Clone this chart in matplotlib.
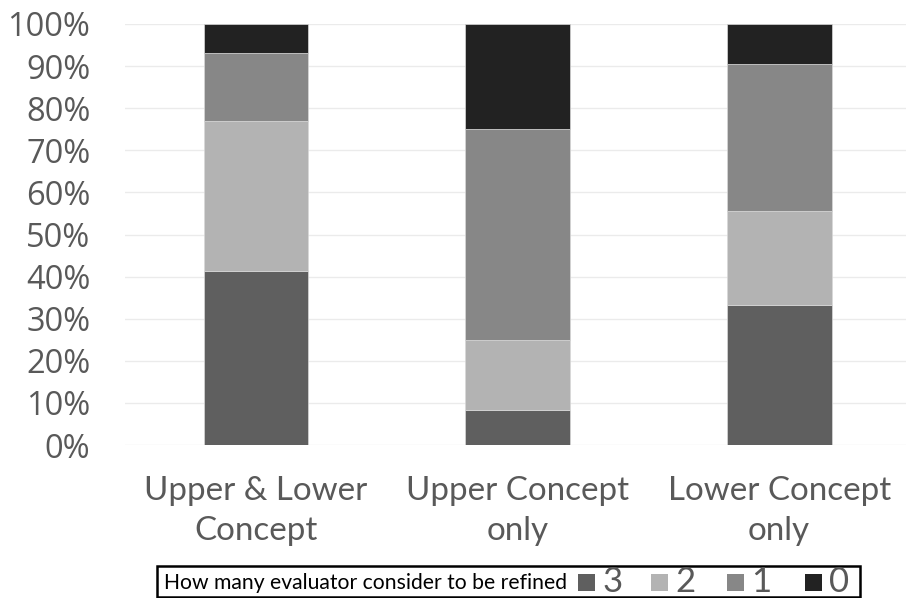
import matplotlib
matplotlib.use("Agg")
import matplotlib.pyplot as plt
from matplotlib.patches import Rectangle
import numpy as np

categories = ["Upper & Lower\nConcept", "Upper Concept\nonly", "Lower Concept\nonly"]
series_labels = ["3", "2", "1", "0"]
series_colors = ["#5f5f5f", "#b3b3b3", "#878787", "#222222"]
vals_3 = [41.3, 8.3, 33.3]
vals_2 = [35.7, 16.7, 22.2]
vals_1 = [16.2, 50.0, 34.9]
vals_0 = [6.8, 25.0, 9.6]
series_values = [vals_3, vals_2, vals_1, vals_0]
legend_title = "How many evaluator consider to be refined"
yticks = [0, 10, 20, 30, 40, 50, 60, 70, 80, 90, 100]

NARROW = ["Lato", "DejaVu Sans"]
W, H = 906, 598
fig = plt.figure(figsize=(W / 100, H / 100), dpi=100)
ax = fig.add_axes([125 / W, 153 / H, 785 / W, 421 / H])
renderer = fig.canvas.get_renderer()


def fit_width(t, target_px):
    w = t.get_window_extent(renderer).width
    t.set_fontsize(t.get_fontsize() * target_px / w)


x = np.arange(len(categories))
bottom = np.zeros(len(categories))
for vals, col in zip(series_values, series_colors):
    v = np.array(vals) / 100.0
    ax.bar(x, v, width=0.4, bottom=bottom, color=col, edgecolor="#d8d8d8",
           linewidth=0.5, zorder=3)
    bottom += v

ax.set_xlim(-0.5, 2.5)
ax.set_ylim(0, 1)
ax.set_yticks([t / 100 for t in yticks])
ax.set_yticklabels([f"{t}%" for t in yticks], family="Open Sans", fontsize=23.5,
                   color="#595959")
ax.tick_params(axis="y", length=0, pad=25)
ax.set_xticks(x)
ax.set_xticklabels(categories, family=NARROW, fontsize=24, color="#595959",
                   linespacing=1.45)
ax.tick_params(axis="x", length=0, pad=22)
ax.grid(axis="y", color="#ebebeb", linewidth=1, zorder=0)
for s in ax.spines.values():
    s.set_visible(False)

# scale x tick label font so "Upper & Lower" spans ~223 px
probe = fig.text(0, 0, "Upper & Lower", family=NARROW, fontsize=24)
w = probe.get_window_extent(renderer).width
fs = 24 * 223 / w
probe.remove()
for lab in ax.get_xticklabels():
    lab.set_fontsize(fs)

# legend box
fig.patches.append(Rectangle((157 / W, 1 / H), 703 / W, 31 / H, transform=fig.transFigure,
                             fill=False, edgecolor="black", linewidth=1.8))
tt = fig.text(164 / W, 15 / H, legend_title, family=NARROW,
              fontsize=15, color="black", va="center", ha="left")
fit_width(tt, 402)
sq_x = [578, 651, 727, 805]
for sx, lab, col in zip(sq_x, series_labels, series_colors):
    fig.patches.append(Rectangle((sx / W, 7 / H), 17 / W, 17 / H, transform=fig.transFigure,
                                 facecolor=col, edgecolor="none"))
    fig.text((sx + 24) / W, 16 / H, lab, family=NARROW,
             fontsize=25, color="#595959", va="center", ha="left")

fig.savefig("out.png", dpi=100)
